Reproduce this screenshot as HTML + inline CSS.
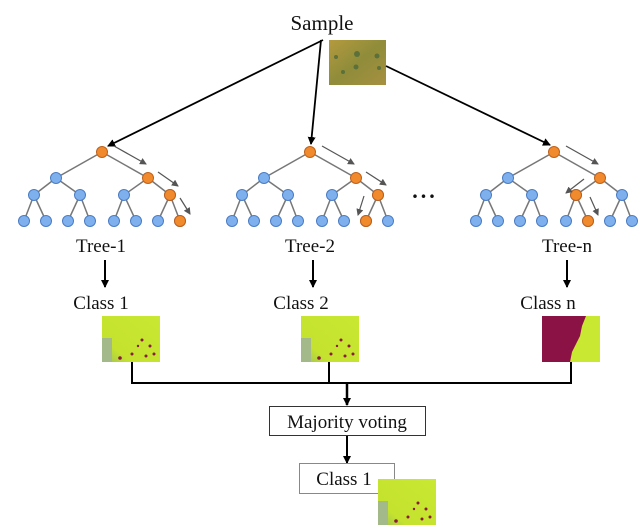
<!DOCTYPE html>
<html><head><style>
body{margin:0;background:#fff}
svg text{font-family:"Liberation Serif",serif;fill:#111}
</style></head><body>
<svg width="640" height="525" viewBox="0 0 640 525" xmlns="http://www.w3.org/2000/svg">
<defs>
<marker id="ah" markerWidth="8" markerHeight="8" refX="7" refY="4" orient="auto" markerUnits="userSpaceOnUse"><path d="M0,0 L8,4 L0,8 z" fill="#000"/></marker>
<marker id="gh" markerWidth="7" markerHeight="7" refX="6" refY="3.5" orient="auto" markerUnits="userSpaceOnUse"><path d="M0,0 L7,3.5 L0,7 z" fill="#555"/></marker>
<linearGradient id="samp" x1="0" y1="0" x2="1" y2="1"><stop offset="0" stop-color="#b49a3e"/><stop offset="0.5" stop-color="#8f8c3a"/><stop offset="1" stop-color="#a69040"/></linearGradient>
<linearGradient id="cls" x1="0" y1="1" x2="1" y2="0"><stop offset="0" stop-color="#9fbf5a"/><stop offset="0.25" stop-color="#c4e22e"/><stop offset="1" stop-color="#c8e832"/></linearGradient>
<g id="climg"><rect width="58" height="46" fill="url(#cls)"/><rect x="0" y="22" width="10" height="24" fill="#a4b98a"/><circle cx="40" cy="24" r="1.5" fill="#8b1a3a"/><circle cx="48" cy="30" r="1.5" fill="#8b1a3a"/><circle cx="30" cy="38" r="1.5" fill="#8b1a3a"/><circle cx="18" cy="42" r="1.8" fill="#8b1a3a"/><circle cx="52" cy="38" r="1.5" fill="#8b1a3a"/><circle cx="44" cy="40" r="1.5" fill="#8b1a3a"/><circle cx="36" cy="30" r="1.2" fill="#8b1a3a"/></g>
<g id="tree" stroke="#777" stroke-width="1.5">
<line x1="0" y1="0" x2="-46" y2="26"/><line x1="0" y1="0" x2="46" y2="26"/>
<line x1="-46" y1="26" x2="-68" y2="43"/><line x1="-46" y1="26" x2="-22" y2="43"/>
<line x1="46" y1="26" x2="22" y2="43"/><line x1="46" y1="26" x2="68" y2="43"/>
<line x1="-68" y1="43" x2="-78" y2="69"/><line x1="-68" y1="43" x2="-56" y2="69"/>
<line x1="-22" y1="43" x2="-34" y2="69"/><line x1="-22" y1="43" x2="-12" y2="69"/>
<line x1="22" y1="43" x2="12" y2="69"/><line x1="22" y1="43" x2="34" y2="69"/>
<line x1="68" y1="43" x2="56" y2="69"/><line x1="68" y1="43" x2="78" y2="69"/>
<g fill="#7fb0ee" stroke="#4a7cc4" stroke-width="1">
<circle cx="-46" cy="26" r="5.5"/><circle cx="-68" cy="43" r="5.5"/><circle cx="-22" cy="43" r="5.5"/><circle cx="22" cy="43" r="5.5"/><circle cx="68" cy="43" r="5.5"/>
<circle cx="-78" cy="69" r="5.5"/><circle cx="-56" cy="69" r="5.5"/><circle cx="-34" cy="69" r="5.5"/><circle cx="-12" cy="69" r="5.5"/><circle cx="12" cy="69" r="5.5"/><circle cx="34" cy="69" r="5.5"/><circle cx="56" cy="69" r="5.5"/><circle cx="78" cy="69" r="5.5"/>
</g>
<g fill="#f08a2c" stroke="#c0601a" stroke-width="1"><circle cx="0" cy="0" r="5.5"/><circle cx="46" cy="26" r="5.5"/></g>
<g stroke="#555" stroke-width="1.2" marker-end="url(#gh)"><line x1="12" y1="-6" x2="44" y2="12"/></g>
</g>
</defs>

<text x="322" y="30" font-size="21" text-anchor="middle">Sample</text>
<rect x="329" y="40" width="57" height="45" fill="url(#samp)"/>
<g fill="#4e6a3a" opacity="0.8"><circle cx="357" cy="54" r="3"/><circle cx="377" cy="56" r="2.5"/><circle cx="356" cy="67" r="2.5"/><circle cx="343" cy="72" r="2"/><circle cx="336" cy="57" r="2"/><circle cx="379" cy="68" r="2"/></g>

<g stroke="#000" stroke-width="1.8" marker-end="url(#ah)" fill="none">
<line x1="323" y1="40" x2="108" y2="146"/>
<line x1="321" y1="40" x2="311" y2="144"/>
<line x1="386" y1="66" x2="550" y2="145"/>
</g>

<use href="#tree" x="102" y="152"/>
<use href="#tree" x="310" y="152"/>
<use href="#tree" x="554" y="152"/>

<!-- tree1 path -->
<g transform="translate(102,152)">
<circle cx="68" cy="43" r="5.5" fill="#f08a2c" stroke="#c0601a"/><circle cx="78" cy="69" r="5.5" fill="#f08a2c" stroke="#c0601a"/>
<g stroke="#555" stroke-width="1.2" marker-end="url(#gh)"><line x1="56" y1="20" x2="76" y2="34"/><line x1="78" y1="46" x2="88" y2="62"/></g>
</g>
<!-- tree2 path -->
<g transform="translate(310,152)">
<circle cx="68" cy="43" r="5.5" fill="#f08a2c" stroke="#c0601a"/><circle cx="56" cy="69" r="5.5" fill="#f08a2c" stroke="#c0601a"/>
<g stroke="#555" stroke-width="1.2" marker-end="url(#gh)"><line x1="56" y1="20" x2="76" y2="33"/><line x1="54" y1="44" x2="48" y2="63"/></g>
</g>
<!-- tree-n path -->
<g transform="translate(554,152)">
<circle cx="22" cy="43" r="5.5" fill="#f08a2c" stroke="#c0601a"/><circle cx="34" cy="69" r="5.5" fill="#f08a2c" stroke="#c0601a"/>
<g stroke="#555" stroke-width="1.2" marker-end="url(#gh)"><line x1="30" y1="27" x2="12" y2="41"/><line x1="36" y1="45" x2="44" y2="63"/></g>
</g>

<text x="425" y="198" font-size="22" font-weight="bold" text-anchor="middle" letter-spacing="3">...</text>

<g font-size="19" text-anchor="middle">
<text x="101" y="252">Tree-1</text>
<text x="310" y="252">Tree-2</text>
<text x="567" y="252">Tree-n</text>
<text x="101" y="309">Class 1</text>
<text x="301" y="309">Class 2</text>
<text x="548" y="309">Class n</text>
</g>

<g stroke="#000" stroke-width="2" marker-end="url(#ah)">
<line x1="105" y1="260" x2="105" y2="287"/>
<line x1="313" y1="260" x2="313" y2="287"/>
<line x1="567" y1="260" x2="567" y2="287"/>
</g>

<use href="#climg" x="102" y="316"/>
<use href="#climg" x="301" y="316"/>
<g transform="translate(542,316)"><rect width="58" height="46" fill="#c8e832"/><path d="M0,0 H44 L40,10 L38,20 L34,28 L30,36 L28,46 H0 z" fill="#8a1245"/></g>

<g stroke="#000" stroke-width="2" fill="none">
<polyline points="132,362 132,383 571,383 571,362"/>
<line x1="329" y1="362" x2="329" y2="383"/>
</g>
<g stroke="#000" stroke-width="2.5" marker-end="url(#ah)">
<line x1="347" y1="383" x2="347" y2="405"/>
</g>
<g stroke="#000" stroke-width="2" marker-end="url(#ah)">
<line x1="347" y1="436" x2="347" y2="463"/>
</g>
<rect x="269.5" y="406.5" width="156" height="29" fill="#fff" stroke="#333" stroke-width="1"/>
<text x="347" y="428" font-size="19" text-anchor="middle">Majority voting</text>
<rect x="299.5" y="463.5" width="95" height="30" fill="#fff" stroke="#888" stroke-width="1"/>
<text x="344" y="485" font-size="19" text-anchor="middle">Class 1</text>
<use href="#climg" x="378" y="479"/>
</svg>
</body></html>
